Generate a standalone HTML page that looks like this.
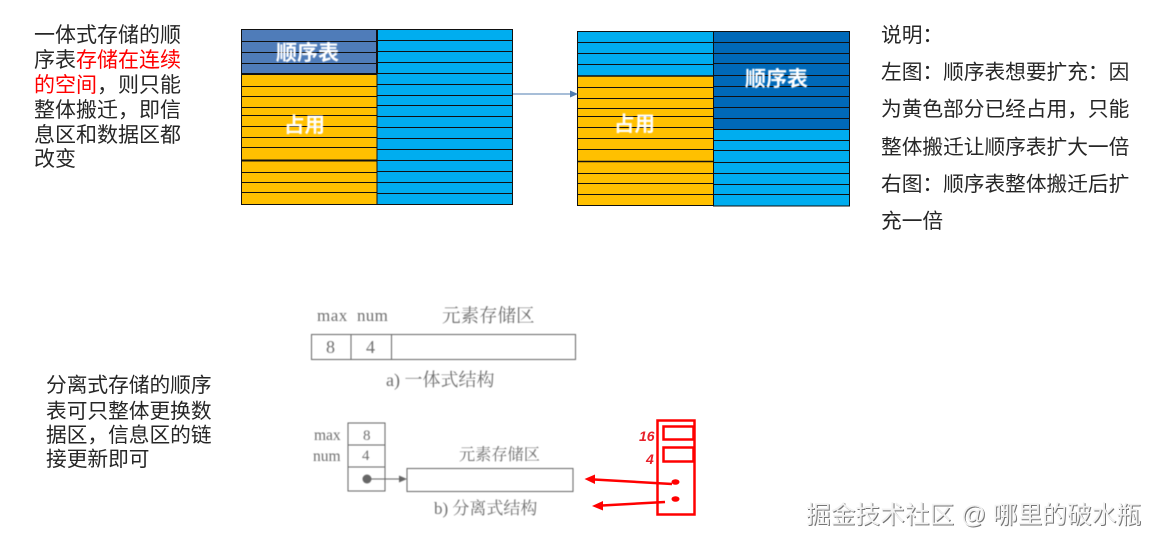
<!DOCTYPE html>
<html lang="zh">
<head>
<meta charset="utf-8">
<style>
html,body{margin:0;padding:0;background:#fff;}
svg{display:block;}
text{font-family:"Liberation Sans","Noto Sans CJK SC",sans-serif;}
.t{font-size:20.7px;fill:#262626;}
.l{font-size:21px;fill:#262626;}
.s{font-family:"Liberation Serif","Noto Serif CJK SC",serif;fill:#6f6f6f;}
.soft{filter:blur(0.4px);}
</style>
</head>
<body>
<svg width="1158" height="546" viewBox="0 0 1158 546" xmlns="http://www.w3.org/2000/svg">
<rect width="1158" height="546" fill="#fff"/>

<!-- left table -->
<rect x="241" y="29" width="136" height="45" fill="#4f7cb9"/>
<rect x="241" y="74" width="136" height="131" fill="#ffc000"/>
<rect x="377" y="29" width="136" height="176" fill="#00adef"/>
<g stroke="#111" stroke-width="1" fill="none">
<path d="M241 41.500H377M241 52.500H377M241 63.500H377M241 86.500H377M241 96.500H377M241 107.500H377M241 115.500H377M241 126.500H377M241 137.500H377M241 147.500H377M241 172.500H377M241 182.500H377M241 192.500H377"/>
<path d="M377 40.500H513M377 51.500H513M377 62.500H513M377 73.500H513M377 84.500H513M377 95.500H513M377 105.500H513M377 116.500H513M377 127.500H513M377 138.500H513M377 149.500H513M377 160.500H513M377 171.500H513M377 182.500H513M377 193.500H513"/>
<path d="M241 74H377M241 160.500H377" stroke-width="2"/>
<path d="M377 29V74" stroke-width="2"/>
<path d="M377 74V205"/>
<rect x="241.500" y="29.500" width="271" height="175"/>
</g>

<!-- right table -->
<rect x="577" y="31" width="136" height="45" fill="#00adef"/>
<rect x="577" y="76" width="136" height="129" fill="#ffc000"/>
<rect x="713" y="31" width="136" height="98" fill="#0069b8"/>
<rect x="713" y="129" width="136" height="77" fill="#00adef"/>
<g stroke="#111" stroke-width="1" fill="none">
<path d="M577 42.500H713M577 53.500H713M577 64.500H713M577 87.500H713M577 98.500H713M577 108.500H713M577 116.500H713M577 127.500H713M577 138.500H713M577 149.500H713M577 173.500H713M577 183.500H713M577 194.500H713"/>
<path d="M713 42.500H849M713 53.500H849M713 63.500H849M713 75.500H849M713 86.500H849M713 96.500H849M713 107.500H849M713 118.500H849M713 129.500H849M713 140.500H849M713 150.500H849M713 162.500H849M713 173.500H849M713 184.500H849M713 194.500H849"/>
<path d="M577 76H713M577 161.500H713" stroke-width="1.600"/>
<path d="M713.500 31V206"/>
<path d="M577.500 31.500H849.500V206H713.500V205.500H577.500Z"/>
</g>

<!-- connector -->
<path d="M513 94H571" stroke="#4f7cb0" stroke-width="1"/>
<path d="M578 94L570 90.500V97.500Z" fill="#4f7cb0"/>

<!-- labels on tables -->
<g font-weight="700" fill="#fff" class="soft">
<text x="276" y="60" style="font-size:21px">顺序表</text>
<text x="284" y="132" style="font-size:20.500px">占用</text>
<text x="745" y="86" style="font-size:21px">顺序表</text>
<text x="614" y="131" style="font-size:20.500px">占用</text>
</g>

<!-- left description -->
<text class="l" x="34" y="42">一体式存储的顺</text>
<text class="l" x="34" y="67">序表<tspan fill="#f00">存储在连续</tspan></text>
<text class="l" x="34" y="92"><tspan fill="#f00">的空间</tspan>，则只能</text>
<text class="l" x="34" y="117">整体搬迁，即信</text>
<text class="l" x="34" y="142">息区和数据区都</text>
<text class="l" x="34" y="166">改变</text>

<!-- right description -->
<text class="t" x="881" y="42">说明：</text>
<text class="t" x="881" y="79">左图：顺序表想要扩充：因</text>
<text class="t" x="881" y="116">为黄色部分已经占用，只能</text>
<text class="t" x="881" y="154">整体搬迁让顺序表扩大一倍</text>
<text class="t" x="881" y="191">右图：顺序表整体搬迁后扩</text>
<text class="t" x="881" y="228">充一倍</text>

<!-- bottom left description -->
<text class="t" x="46" y="392">分离式存储的顺序</text>
<text class="t" x="46" y="418">表可只整体更换数</text>
<text class="t" x="46" y="442">据区，信息区的链</text>
<text class="t" x="46" y="466">接更新即可</text>

<!-- figure a -->
<g class="soft">
<text class="s" x="317" y="321" font-size="17px" letter-spacing="0.500">max</text>
<text class="s" x="357" y="321" font-size="17px" letter-spacing="0.300">num</text>
<text class="s" x="442" y="322" font-size="18.500px">元素存储区</text>
<g fill="none" stroke="#666" stroke-width="1">
<rect x="311.500" y="334.500" width="264" height="25"/>
<path d="M351 334.500V359.500M391.500 334.500V359.500"/>
</g>
<text class="s" x="326" y="353" font-size="18px">8</text>
<text class="s" x="366" y="353" font-size="18px">4</text>
<text class="s" x="386" y="386" font-size="18px">a) 一体式结构</text>
</g>

<!-- figure b -->
<g class="soft">
<text class="s" x="314" y="440" font-size="15.500px">max</text>
<text class="s" x="313" y="461" font-size="15.500px">num</text>
<g fill="none" stroke="#666" stroke-width="1">
<rect x="348" y="423" width="37" height="68"/>
<path d="M348 445H385M348 467H385"/>
<rect x="407" y="468.500" width="166" height="23"/>
</g>
<text class="s" x="363" y="440" font-size="15px">8</text>
<text class="s" x="362" y="460" font-size="15px">4</text>
<text class="s" x="459" y="460" font-size="16.200px">元素存储区</text>
<circle cx="367" cy="479" r="4.500" fill="#666"/>
<path d="M371 479H400" stroke="#666" stroke-width="1"/>
<path d="M407 479L399 475.500V482.500Z" fill="#666"/>
<text class="s" x="434" y="514" font-size="17px">b) 分离式结构</text>
</g>

<!-- red sketch -->
<g fill="none" stroke="#f00" stroke-width="2.500">
<rect x="657.500" y="420.500" width="37" height="94"/>
<rect x="663.500" y="426.500" width="30" height="13"/>
<rect x="663.500" y="447.500" width="30" height="14"/>
</g>
<text x="639" y="441" font-size="14px" font-weight="700" font-style="italic" fill="#e8202a">16</text>
<text x="646" y="464" font-size="14px" font-weight="700" font-style="italic" fill="#e8202a">4</text>
<ellipse cx="675.500" cy="482" rx="4" ry="2.800" fill="#f00"/>
<ellipse cx="675.500" cy="499" rx="4" ry="2.800" fill="#f00"/>
<path d="M672 484L594 479.500" stroke="#f00" stroke-width="2.500" fill="none"/>
<path d="M584.500 479L595 474.500L595 484Z" fill="#f00"/>
<path d="M665 502L602 505.500" stroke="#f00" stroke-width="2.500" fill="none"/>
<path d="M592 506L603 501L603 510.500Z" fill="#f00"/>

<!-- watermark -->
<text x="807" y="524" font-size="24.700px" fill="#555" opacity="0.800">掘金技术社区 @ 哪里的破水瓶</text>
<text x="806" y="523" font-size="24.700px" fill="#f2f2f2">掘金技术社区 @ 哪里的破水瓶</text>
</svg>
</body>
</html>
